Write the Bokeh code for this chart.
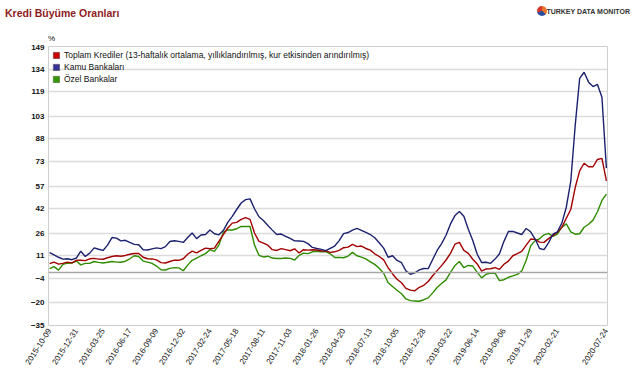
import numpy as np
from bokeh.plotting import figure
from bokeh.layouts import column
from bokeh.models import Range1d, FixedTicker, Legend, LegendItem, Span, Div
from bokeh.embed import file_html
from bokeh.resources import INLINE

title_text = "Kredi Büyüme Oranları"
brand_text = "TURKEY DATA MONITOR"
unit_text = "%"
series_names = [
    "Toplam Krediler (13-haftalık ortalama, yıllıklandırılmış, kur etkisinden arındırılmış)",
    "Kamu Bankaları",
    "Özel Bankalar",
]
x_tick_labels = ["2015-10-09", "2015-12-31", "2016-03-25", "2016-06-17", "2016-09-09",
                 "2016-12-02", "2017-02-24", "2017-05-18", "2017-08-11", "2017-11-03",
                 "2018-01-26", "2018-04-20", "2018-07-13", "2018-10-05", "2018-12-28",
                 "2019-03-22", "2019-06-14", "2019-09-06", "2019-11-29", "2020-02-21",
                 "2020-07-24"]
x_tick_weeks = [0, 12, 24, 36, 48, 60, 72, 84, 96, 108, 120, 132, 144, 156, 168,
                180, 192, 204, 216, 228, 250]
y_tick_labels = [-35, -20, -4, 11, 26, 42, 57, 73, 88, 103, 119, 134, 149]

week = list(range(0, 251, 2))

toplam = [5.8, 6.8, 5.5, 6.0, 6.8, 6.3, 8.0, 8.0, 7.8, 9.0,
          9.3, 8.8, 8.7, 9.7, 10.5, 11.0, 10.7, 11.2, 12.0, 12.5,
          12.5, 10.0, 9.0, 8.9, 8.3, 6.5, 6.2, 7.2, 8.1, 8.0,
          9.0, 12.0, 14.0, 12.9, 14.5, 16.0, 15.6, 16.0, 20.5, 25.0,
          29.3, 32.5, 33.0, 35.0, 36.1, 35.0, 26.0, 20.5, 19.3, 18.0,
          15.0, 14.5, 15.7, 15.0, 14.3, 15.6, 12.8, 15.0, 14.7, 15.0,
          14.8, 14.1, 14.2, 13.2, 13.6, 14.5, 16.3, 16.7, 18.5, 17.0,
          17.4, 15.8, 14.7, 12.3, 10.5, 8.3, 3.1, -1.0, -4.5, -6.8,
          -10.5, -11.7, -12.1, -9.8, -8.5, -6.0, -2.2, 1.2, 4.5, 8.2,
          12.6, 18.6, 19.8, 14.5, 12.6, 8.7, 5.6, 0.8, 2.3, 2.4,
          3.2, 2.0, 5.4, 7.5, 11.0, 12.4, 13.9, 18.0, 22.0, 21.8,
          20.0, 19.8, 22.3, 24.3, 26.5, 29.7, 35.7, 41.5, 56.0, 67.0,
          72.0, 69.7, 69.7, 74.5, 75.2, 60.4]

kamu = [13.0, 11.5, 10.0, 8.8, 9.0, 8.4, 9.5, 14.0, 10.5, 12.7,
        16.2, 15.3, 14.5, 18.0, 23.0, 22.6, 20.8, 21.2, 19.8, 18.5,
        18.3, 15.0, 14.8, 15.5, 16.2, 15.7, 17.0, 20.4, 20.9, 20.5,
        19.8, 23.0, 26.0, 22.3, 24.7, 25.0, 28.0, 25.5, 24.8, 27.6,
        33.0, 37.0, 41.5, 45.8, 48.0, 48.5, 42.0, 36.7, 34.3, 31.0,
        27.9, 25.0, 25.3, 23.8, 22.4, 20.8, 20.7, 20.5, 19.0, 16.5,
        15.8, 15.2, 14.4, 15.9, 17.4, 21.0, 25.6, 26.3, 27.9, 29.0,
        27.8, 26.4, 25.0, 22.9, 19.6, 16.0, 10.0, 11.0, 7.9, 6.4,
        1.0, -1.2, -0.2, 1.7, 2.6, 2.5, 8.5, 14.5, 19.0, 24.5,
        32.0, 37.5, 40.2, 37.0, 28.5, 21.0, 12.0, 6.5, 6.7, 6.0,
        8.8, 12.3, 20.5, 27.0, 27.1, 26.0, 25.0, 29.0, 26.8, 22.0,
        15.8, 15.0, 19.5, 25.2, 26.8, 32.5, 43.0, 60.0, 97.0, 128.0,
        132.0, 125.5, 122.6, 124.0, 115.5, 68.8]

ozel = [2.5, 3.8, 1.5, 5.3, 6.1, 6.2, 7.5, 5.0, 6.0, 6.0,
        7.2, 6.6, 6.2, 6.7, 7.2, 6.8, 6.7, 7.4, 9.0, 11.0,
        10.5, 7.5, 6.8, 6.0, 4.2, 1.8, 1.6, 2.7, 3.2, 3.0,
        1.1, 4.8, 8.0, 9.5, 11.0, 12.4, 15.0, 13.9, 18.0, 26.5,
        28.0, 28.0, 28.8, 30.4, 30.3, 30.3, 18.0, 11.3, 10.2, 10.7,
        9.5, 9.2, 9.2, 9.5, 9.3, 8.2, 11.2, 12.7, 12.4, 13.6,
        14.0, 13.6, 13.8, 12.3, 9.8, 9.9, 9.7, 10.8, 13.2, 11.0,
        10.1, 8.9, 7.0, 5.3, 2.7, -0.5, -6.8, -9.3, -11.8, -14.1,
        -17.5, -18.6, -18.8, -19.0, -18.0, -16.8, -13.5, -9.9, -7.3, -4.9,
        0.0, 4.5, 7.2, 3.1, 4.6, 4.2, 0.0, -3.6, -1.2, -0.5,
        -0.4, -5.4, -4.8, -3.2, -2.3, -1.3, 1.0, 8.0, 17.5, 21.0,
        22.2, 24.8, 25.8, 23.8, 25.2, 29.8, 32.0, 26.7, 25.2, 25.5,
        29.8, 31.8, 34.5, 40.0, 47.5, 51.6]

line_colors = ["#a30000", "#1c216e", "#2f8c00"]
swatch_colors = ["#cc0000", "#333399", "#339900"]
FONT = "Liberation Sans"
W, H, HEAD = 635, 370, 44

# ---- header strip (title, brand logo, unit) as HTML text
header_html = f"""
<div style="position:relative;width:{W}px;height:{HEAD}px;font-family:'Liberation Sans',Arial,sans-serif;">
  <span style="position:absolute;left:5px;top:6px;font-size:10.5px;font-weight:bold;color:#8e1b1b;white-space:nowrap;">{title_text}</span>
  <span style="position:absolute;left:537px;top:6px;width:10px;height:10px;border-radius:50%;
        background:conic-gradient(#e8762d 0 35%, #2f4f9e 35% 70%, #d8342c 70% 100%);"></span>
  <span style="position:absolute;right:5px;top:7px;font-size:7px;font-weight:bold;color:#333333;white-space:nowrap;">{brand_text}</span>
  <span style="position:absolute;left:48px;top:33px;font-size:8px;color:#111111;">{unit_text}</span>
</div>
"""
header = Div(text=header_html, width=W, height=HEAD, margin=(0, 0, 0, 0))

# ---- main chart
p = figure(width=W, height=H - HEAD, output_backend="svg", toolbar_location=None,
           x_range=Range1d(-0.5, 250.5), y_range=Range1d(-35, 149),
           min_border_left=48, min_border_right=28, min_border_top=2, min_border_bottom=45)

p.outline_line_color = "#cfcfcf"
p.background_fill_color = "white"
p.border_fill_color = "white"
p.xgrid.grid_line_color = None
p.ygrid.grid_line_color = "#dcdcdc"
p.ygrid.grid_line_width = 1.5

p.yaxis.ticker = FixedTicker(ticks=y_tick_labels)
p.xaxis.ticker = FixedTicker(ticks=x_tick_weeks)
p.xaxis.major_label_overrides = {w: s for w, s in zip(x_tick_weeks, x_tick_labels)}
p.xaxis.major_label_orientation = 1.0
for ax in (p.xaxis, p.yaxis):
    ax.axis_line_color = None
    ax.major_tick_line_color = None
    ax.minor_tick_line_color = None
    ax.major_tick_out = 0
    ax.major_tick_in = 0
    ax.minor_tick_out = 0
    ax.major_label_text_font = FONT
    ax.major_label_text_font_size = "8px"
    ax.major_label_text_color = "#111111"
p.yaxis.major_label_text_font_style = "bold"
p.yaxis.major_label_standoff = 4
p.xaxis.major_label_standoff = 4

p.add_layout(Span(location=0, dimension="width", line_color="#a6a6a6", line_width=1.5))

for vals, col in zip([ozel, toplam, kamu], [line_colors[2], line_colors[0], line_colors[1]]):
    p.line(week, vals, line_color=col, line_width=1.4)

swatches = [p.quad(left=[np.nan], right=[np.nan], top=[np.nan], bottom=[np.nan],
                   fill_color=c, line_color="#555555", line_width=0.5)
            for c in swatch_colors]
legend = Legend(items=[LegendItem(label=n, renderers=[r]) for n, r in zip(series_names, swatches)],
                location="top_left", background_fill_alpha=0, border_line_color=None,
                label_text_font=FONT, label_text_font_size="8.5px", label_text_color="#111111",
                glyph_width=8, glyph_height=8, label_height=9, label_standoff=4,
                spacing=2, padding=3, margin=4)
p.add_layout(legend)

layout = column(header, p, spacing=0)
open("out.html", "w").write(file_html(layout, INLINE))
